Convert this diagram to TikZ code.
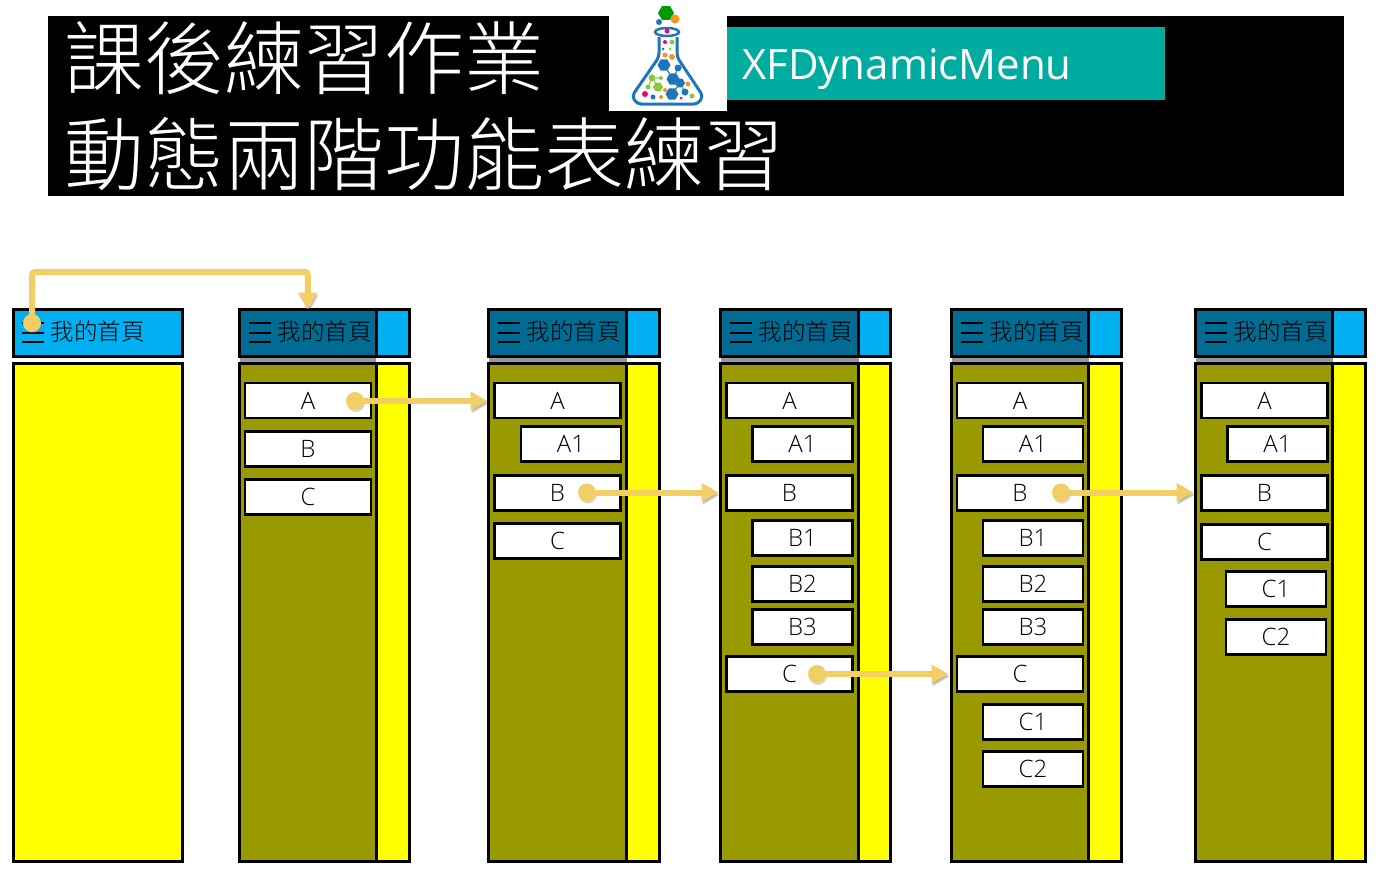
\documentclass[tikz,border=0pt]{standalone}
\usepackage{fontspec}
\setmainfont{Open Sans Light}
\newfontfamily\cjk{Noto Sans CJK TC Light}
\newfontfamily\titlelatin{Open Sans}
\usetikzlibrary{arrows.meta,shapes.geometric,shadows}

\definecolor{homeblue}{HTML}{00B0F0}
\definecolor{dimblue}{HTML}{006C94}
\definecolor{olive}{HTML}{999900}
\definecolor{pureyellow}{RGB}{255,255,0}
\definecolor{linkgold}{HTML}{F2CE66}
\definecolor{bannerteal}{HTML}{00ABA0}
\definecolor{flaskblue}{HTML}{1F75BB}
\definecolor{flaskgreen}{HTML}{8CC63F}
\definecolor{flaskpink}{HTML}{EC008C}
\definecolor{flaskorange}{HTML}{F7941D}

\tikzset{
  panelbox/.style={draw=black, line width=3pt, inner sep=0pt, outer sep=0pt},
  menutop/.style={panelbox, fill=white, line width=2.5pt, minimum width=126pt, minimum height=35pt, font=\fontsize{24}{24}\selectfont},
  menusub/.style={menutop, minimum width=100pt},
  headtext/.style={inner sep=0pt, font=\cjk\fontsize{23.5}{24}\selectfont},
  linkdot/.style={circle, fill=linkgold, minimum size=18pt, inner sep=0pt, drop shadow={shadow xshift=1pt, shadow yshift=-2pt, opacity=.3}},
  linkline/.style={draw=linkgold, line width=6pt, -{Triangle[length=17pt,width=18pt]},
    preaction={draw=black, opacity=.22, transform canvas={shift={(1pt,-2.5pt)}}}},
  titletext/.style={anchor=west, inner sep=0pt, text=white, font=\cjk\fontsize{80}{80}\selectfont},
  flaskdot/.style={circle, inner sep=0pt, fill=#1},
  flaskhex/.style={regular polygon, regular polygon sides=6, inner sep=0pt, fill=#1},
  flaskbond/.style={draw=#1, line width=1.2pt},
  pics/menuicon/.style={code={
    \draw[line width=2pt] (-11,-9.5) -- (11,-9.5);
    \draw[line width=2pt] (-11,0) -- (11,0);
    \draw[line width=2pt] (-11,9.5) -- (11,9.5);
  }}
}

% name, left, divider, right
\newcommand{\menupanel}[4]{
  \node[fill=black!40, inner sep=0pt, minimum width={(#3-#2)*1pt}, minimum height=8pt] (strip#1) at ({(#2+#3)/2},360) {};
  \node[panelbox, fill=olive, minimum width={(#3-#2)*1pt}, minimum height=498pt] (body#1) at ({(#2+#3)/2},612.5) {};
  \node[panelbox, fill=pureyellow, minimum width={(#4-#3)*1pt}, minimum height=498pt] (tail#1) at ({(#3+#4)/2},612.5) {};
  \node[panelbox, fill=dimblue, minimum width={(#3-#2)*1pt}, minimum height=47pt] (head#1) at ({(#2+#3)/2},333) {};
  \node[panelbox, fill=homeblue, minimum width={(#4-#3)*1pt}, minimum height=47pt] (corner#1) at ({(#3+#4)/2},333) {};
  \pic at ({#2+20.5},332.5) {menuicon};
  \node[headtext] (label#1) at ({#2+85},332) {我的首頁};
}

\begin{document}
\begin{tikzpicture}[x=1pt, y=-1pt]
  \useasboundingbox (0,0) rectangle (1380,879);

  % banner
  \node[fill=black, inner sep=0pt, minimum width=1296pt, minimum height=180pt] (banner) at (696,106) {};
  \node[fill=white, inner sep=0pt, minimum width=118pt, minimum height=95pt] (logo) at (668,63) {};
  \node[fill=bannerteal, inner sep=0pt, minimum width=438pt, minimum height=73pt] (teal) at (946,63.5) {};
  \node[anchor=west, inner sep=0pt, text=white, font=\titlelatin\fontsize{42}{42}\selectfont] (course) at (742,69) {XFDynamicMenu};
  \node[titletext] (titleA) at (64,58) {課後練習作業};
  \node[titletext] (titleB) at (64,154) {動態兩階功能表練習};

  % flask
  \draw[flaskblue, line width=3pt, rounded corners=4pt] (659,37) -- (659,57) -- (632,96) -- (637,104) -- (698,104) -- (703,96) -- (677,57) -- (677,37);
  \draw[flaskblue, line width=2.5pt] (667,32) ellipse [x radius=12, y radius=4];
  \node[flaskhex=green!60!black, minimum size=16pt] (hexTop) at (666,13) {};
  \node[flaskdot=flaskorange, minimum size=9pt] (bubbleA) at (675,19) {};
  \node[flaskdot=flaskblue, minimum size=6pt] (bubbleB) at (659,22) {};
  \node[flaskdot=flaskpink, minimum size=5pt] (dotA) at (667,31) {};
  \node[flaskdot=flaskpink, minimum size=4pt] (dotB) at (665,42) {};
  \node[flaskdot=flaskgreen, minimum size=5pt] (dotC) at (672,42) {};
  \node[flaskdot=flaskblue, minimum size=3pt] (dotD) at (663,49) {};
  \node[flaskdot=flaskgreen, minimum size=3pt] (dotE) at (670,49) {};
  \node[flaskdot=flaskorange, minimum size=5pt] (dotF) at (665,55) {};
  \node[flaskdot=flaskorange, minimum size=6pt] (dotG) at (672,57) {};
  \node[flaskhex=flaskblue, minimum size=13pt] (hexA) at (664,65) {};
  \node[flaskdot=flaskblue, minimum size=7pt] (dotH) at (678,68) {};
  \node[flaskdot=flaskgreen, minimum size=7pt] (dotI) at (652,78) {};
  \node[flaskdot=flaskgreen, minimum size=4pt] (dotJ) at (661,78) {};
  \node[flaskdot=flaskgreen, minimum size=5pt] (dotK) at (648,87) {};
  \node[flaskhex=flaskgreen, minimum size=10pt] (hexB) at (658,87) {};
  \node[flaskhex=flaskblue, minimum size=13pt] (hexC) at (673,79) {};
  \node[flaskhex=flaskblue, minimum size=10pt] (hexD) at (680,83) {};
  \node[flaskdot=flaskorange, minimum size=5pt] (dotL) at (688,84) {};
  \node[flaskdot=flaskblue, minimum size=7pt] (dotM) at (685,92) {};
  \node[flaskhex=flaskblue, minimum size=13pt] (hexE) at (672,94) {};
  \node[flaskdot=flaskpink, minimum size=6pt] (dotN) at (645,94) {};
  \node[flaskdot=flaskblue, minimum size=5pt] (dotO) at (653,97) {};
  \node[flaskdot=flaskorange, minimum size=4pt] (dotP) at (661,97) {};
  \node[flaskdot=flaskorange, minimum size=4pt] (dotQ) at (665,90) {};
  \node[flaskdot=flaskpink, minimum size=3pt] (dotR) at (681,98) {};
  \node[flaskdot=flaskgreen, minimum size=5pt] (dotS) at (692,96) {};
  \draw[flaskbond=flaskgreen] (dotI) -- (dotJ) (dotI) -- (dotK) (dotI) -- (hexB);
  \draw[flaskbond=flaskblue] (hexA) -- (hexC) (dotH) -- (hexC) (hexD) -- (dotM) (hexD) -- (hexE);

  % home page
  \node[panelbox, fill=pureyellow, minimum width=169pt, minimum height=498pt] (bodyHome) at (98,612.5) {};
  \node[panelbox, fill=homeblue, minimum width=169pt, minimum height=47pt] (headHome) at (98,333) {};
  \pic at (33,332.5) {menuicon};
  \node[headtext] (labelHome) at (97.5,332) {我的首頁};

  \menupanel{One}{239.5}{376}{409.5}
  \node[menutop] (oneA) at (308,400.5) {A};
  \node[menutop] (oneB) at (308,449) {B};
  \node[menutop] (oneC) at (308,497) {C};

  \menupanel{Two}{488.5}{626.5}{659.5}
  \node[menutop] (twoA) at (557.5,400.5) {A};
  \node[menusub] (twoAa) at (571,444) {A1};
  \node[menutop] (twoB) at (557.5,493) {B};
  \node[menutop] (twoC) at (557.5,541) {C};

  \menupanel{Three}{720.5}{858.5}{890}
  \node[menutop] (threeA) at (789.5,400.5) {A};
  \node[menusub] (threeAa) at (802.5,444) {A1};
  \node[menutop] (threeB) at (789.5,493) {B};
  \node[menusub] (threeBa) at (802.5,538) {B1};
  \node[menusub] (threeBb) at (802.5,584) {B2};
  \node[menusub] (threeBc) at (802.5,627) {B3};
  \node[menutop] (threeC) at (789.5,674) {C};

  \menupanel{Four}{951.5}{1088.5}{1121}
  \node[menutop] (fourA) at (1020,400.5) {A};
  \node[menusub] (fourAa) at (1033,444) {A1};
  \node[menutop] (fourB) at (1020,493) {B};
  \node[menusub] (fourBa) at (1033,538) {B1};
  \node[menusub] (fourBb) at (1033,584) {B2};
  \node[menusub] (fourBc) at (1033,627) {B3};
  \node[menutop] (fourC) at (1020,674) {C};
  \node[menusub] (fourCa) at (1033,722) {C1};
  \node[menusub] (fourCb) at (1033,769) {C2};

  \menupanel{Five}{1195.5}{1332.5}{1365.5}
  \node[menutop] (fiveA) at (1264.5,400.5) {A};
  \node[menusub] (fiveAa) at (1277.5,444) {A1};
  \node[menutop] (fiveB) at (1264.5,493) {B};
  \node[menutop] (fiveC) at (1264.5,542) {C};
  \node[menusub] (fiveCa) at (1276,589) {C1};
  \node[menusub] (fiveCb) at (1276,637) {C2};

  % links
  \node[linkdot] (linkHome) at (32,323) {};
  \node[linkdot] (linkA) at (355,401) {};
  \node[linkdot] (linkB) at (587,492.5) {};
  \node[linkdot] (linkC) at (817,674) {};
  \node[linkdot] (linkD) at (1061,492.5) {};
  \path[linkline, rounded corners=3pt] (linkHome.center) -- ++(0,-51) -| (headOne.north);
  \path[linkline, shorten >=1pt] (linkA.center) -- (linkA.center -| bodyTwo.west);
  \path[linkline, shorten >=2pt] (linkB.center) -- (linkB.center -| bodyThree.west);
  \path[linkline, shorten >=3pt] (linkC.center) -- (linkC.center -| bodyFour.west);
  \path[linkline, shorten >=2pt] (linkD.center) -- (linkD.center -| bodyFive.west);
\end{tikzpicture}
\end{document}
